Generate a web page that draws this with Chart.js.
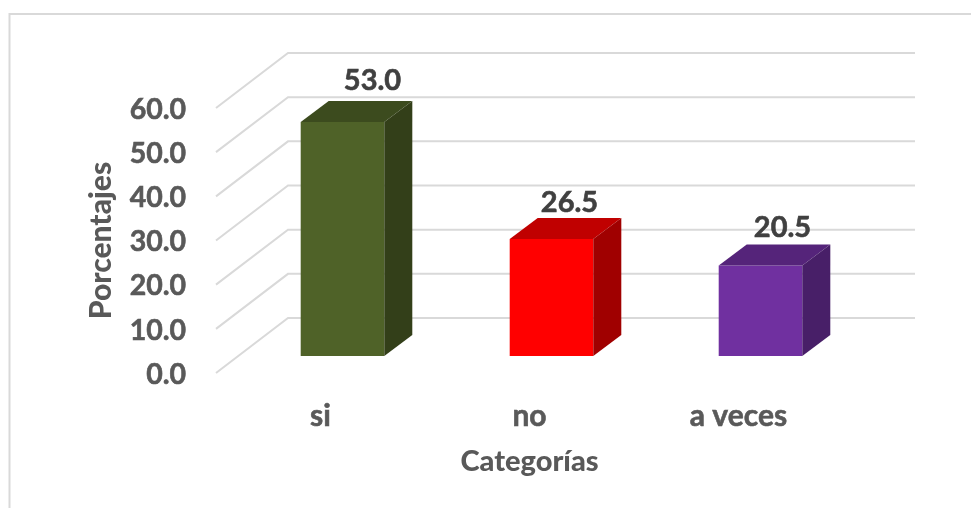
<!DOCTYPE html>
<html>
<head>
<meta charset="utf-8">
<script src="https://cdn.jsdelivr.net/npm/chart.js@4"></script>
<style>
  html, body { margin: 0; padding: 0; background: #fff; overflow: hidden; }
  canvas { display: block; }
</style>
</head>
<body>
<canvas id="myChart" width="971" height="508"></canvas>
<script>
const categories = ['si', 'no', 'a veces'];
const porcentajes = [53.0, 26.5, 20.5];
const frontColors = ['#4f6228', '#ff0000', '#7030a0'];
const topColors = ['#3c4b1e', '#c00000', '#55247a'];
const sideColors = ['#333f19', '#a00000', '#481f68'];

// depth of the floor and where the bars stand in it
const wallDx = 72, wallDy = -55;
const barDx = 22, barDy = -17;
const boxDx = 28, boxDy = -21;
// the data labels were moved by hand in the original
const labelDx = [30, 18, 22];
const labelDy = [-41.5, -36, -37.5];

const fontFamily = 'Lato, sans-serif';
const gridColor = '#d9d9d9';

function poly(ctx, color, pts) {
    ctx.fillStyle = color;
    ctx.beginPath();
    pts.forEach((p, i) => i ? ctx.lineTo(p[0], p[1]) : ctx.moveTo(p[0], p[1]));
    ctx.closePath();
    ctx.fill();
}

const fake3d = {
    id: 'fake3d',
    beforeDraw(chart) {
        const ctx = chart.ctx;
        ctx.save();
        ctx.strokeStyle = gridColor;
        ctx.lineWidth = 2;
        ctx.strokeRect(9.5, 14, 1000, 600);
        ctx.restore();
    },
    beforeDatasetsDraw(chart) {
        const ctx = chart.ctx, area = chart.chartArea, y = chart.scales.y;
        ctx.save();
        ctx.strokeStyle = gridColor;
        ctx.lineWidth = 2;
        y.ticks.forEach(t => {
            const py = y.getPixelForValue(t.value);
            ctx.beginPath();
            ctx.moveTo(area.left, py);
            ctx.lineTo(area.left + wallDx, py + wallDy);
            ctx.lineTo(area.right + wallDx, py + wallDy);
            ctx.stroke();
        });
        ctx.restore();
        // real bars get pushed back into the floor
        ctx.save();
        ctx.translate(barDx, barDy);
    },
    afterDatasetsDraw(chart) {
        const ctx = chart.ctx;
        chart.getDatasetMeta(0).data.forEach((bar, i) => {
            const l = bar.x - bar.width / 2, r = bar.x + bar.width / 2;
            const t = bar.y, b = bar.base;
            poly(ctx, topColors[i], [[l, t], [r, t], [r + boxDx, t + boxDy], [l + boxDx, t + boxDy]]);
            poly(ctx, sideColors[i], [[r, t], [r + boxDx, t + boxDy], [r + boxDx, b + boxDy], [r, b]]);
        });
        ctx.restore();

        ctx.save();
        ctx.font = 'bold 29px ' + fontFamily;
        ctx.fillStyle = '#404040';
        ctx.textAlign = 'center';
        ctx.textBaseline = 'middle';
        ctx.lineWidth = 0.6;
        ctx.strokeStyle = '#404040';
        chart.getDatasetMeta(0).data.forEach((bar, i) => {
            const tx = bar.x + barDx + labelDx[i], ty = bar.y + barDy + labelDy[i];
            ctx.fillText(porcentajes[i].toFixed(1), tx, ty);
            ctx.strokeText(porcentajes[i].toFixed(1), tx, ty);
        });
        ctx.restore();
    }
};

new Chart(document.getElementById('myChart').getContext('2d'), {
    type: 'bar',
    data: {
        labels: categories,
        datasets: [{
            label: 'Porcentajes',
            data: porcentajes,
            backgroundColor: frontColors,
            barPercentage: 0.4,
            categoryPercentage: 1,
            clip: false
        }]
    },
    options: {
        responsive: false,
        animation: false,
        layout: { padding: { left: 79, top: 108, right: 128, bottom: 25 } },
        plugins: { legend: { display: false }, tooltip: { enabled: false } },
        scales: {
            x: {
                grid: { display: false, drawTicks: false },
                border: { display: false },
                ticks: {
                    color: '#595959',
                    padding: 25,
                    textStrokeColor: '#595959',
                    textStrokeWidth: 0.6,
                    font: { family: fontFamily, size: 30, weight: 'bold' }
                },
                title: {
                    display: true,
                    text: 'Categorías',
                    color: '#595959',
                    font: { family: fontFamily, size: 29, weight: '900' }
                },
                afterFit(s) { s.height = 110; }
            },
            y: {
                min: 0,
                max: 60,
                grid: { display: false, drawTicks: false },
                border: { display: false },
                ticks: {
                    stepSize: 10,
                    color: '#595959',
                    padding: 30,
                    labelOffset: 1.5,
                    textStrokeColor: '#595959',
                    textStrokeWidth: 0.6,
                    font: { family: fontFamily, size: 28.5, weight: 'bold' },
                    callback: v => v.toFixed(1)
                },
                title: {
                    display: true,
                    text: 'Porcentajes',
                    color: '#595959',
                    font: { family: fontFamily, size: 30, weight: '900' }
                },
                afterFit(s) { s.width = 137; }
            }
        }
    },
    plugins: [fake3d]
});
</script>
</body>
</html>
